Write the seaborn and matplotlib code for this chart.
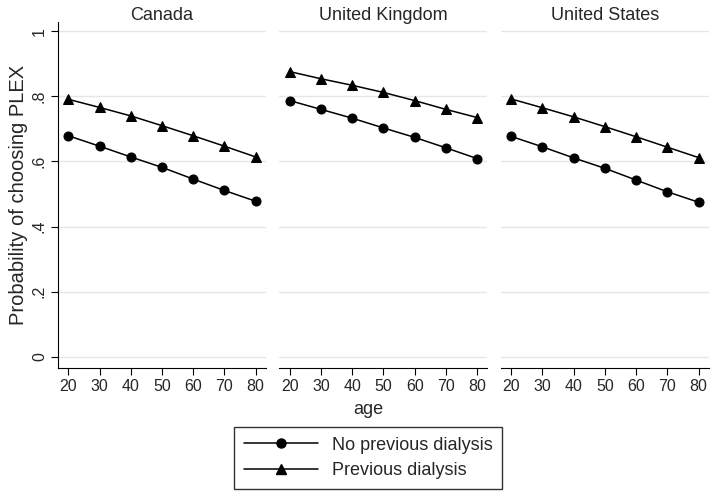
import numpy as np
import pandas as pd
import seaborn as sns
import matplotlib.pyplot as plt
from matplotlib.lines import Line2D

# values
countries = ["Canada", "United Kingdom", "United States"]
ages = [20, 30, 40, 50, 60, 70, 80]
no_prev = {
    "Canada": [0.679, 0.647, 0.614, 0.582, 0.546, 0.511, 0.478],
    "United Kingdom": [0.787, 0.760, 0.733, 0.703, 0.674, 0.642, 0.609],
    "United States": [0.677, 0.645, 0.611, 0.579, 0.543, 0.507, 0.475],
}
prev = {
    "Canada": [0.791, 0.766, 0.740, 0.710, 0.679, 0.647, 0.614],
    "United Kingdom": [0.876, 0.854, 0.834, 0.812, 0.787, 0.760, 0.735],
    "United States": [0.792, 0.765, 0.737, 0.707, 0.676, 0.644, 0.612],
}
groups = ["No previous dialysis", "Previous dialysis"]

rows = []
for c in countries:
    for g, src in zip(groups, [no_prev, prev]):
        for a, p in zip(ages, src[c]):
            rows.append({"country": c, "dialysis": g, "age": a, "prob": p})
df = pd.DataFrame(rows)

sns.set_style("white")
plt.rcParams["font.family"] = ["Liberation Sans", "DejaVu Sans"]

fig, axes = plt.subplots(1, 3, figsize=(7.11, 4.95), dpi=100, sharey=True)
fig.subplots_adjust(left=0.0816, right=0.997, bottom=0.2566, top=0.956, wspace=0.065)

for ax, c in zip(axes, countries):
    sub = df[df["country"] == c]
    sns.lineplot(
        data=sub, x="age", y="prob", style="dialysis",
        markers={"No previous dialysis": "o", "Previous dialysis": "^"},
        dashes=False, color="black", markersize=6.5, linewidth=1.1,
        markeredgecolor="black", ax=ax, legend=False,
    )
    ax.set_xlim(16.7, 83.3)
    ax.set_ylim(-0.034, 1.029)
    ax.set_xticks(ages)
    ax.set_yticks([0, 0.2, 0.4, 0.6, 0.8, 1])
    ax.grid(axis="y", color="#e6e6e6", linewidth=1)
    ax.set_axisbelow(True)
    ax.set_title(c, fontsize=13, pad=1)
    ax.set_xlabel("")
    ax.set_ylabel("")
    for s in ["top", "right"]:
        ax.spines[s].set_visible(False)
    ax.spines["bottom"].set_color("black")
    ax.spines["left"].set_color("black")
    ax.tick_params(axis="x", bottom=True, length=5, color="black", labelsize=11.5, pad=3)
    if ax is axes[0]:
        ax.tick_params(axis="y", left=True, length=5, color="black", labelsize=11.5, pad=3)
        ax.set_yticklabels(["0", ".2", ".4", ".6", ".8", "1"], rotation=90, va="center")
        ax.set_ylabel("Probability of choosing PLEX", fontsize=14.5, labelpad=3)
    else:
        ax.spines["left"].set_visible(False)
        ax.tick_params(axis="y", left=False)

fig.text(0.518, 0.172, "age", ha="center", va="center", fontsize=13)

handles = [
    Line2D([], [], color="black", marker="o", markersize=6.5, linewidth=1.1),
    Line2D([], [], color="black", marker="^", markersize=6.5, linewidth=1.1),
]
leg = fig.legend(handles, groups, loc="center", bbox_to_anchor=(0.518, 0.075),
                 fontsize=13, frameon=True, fancybox=False, handlelength=4.1,
                 borderpad=0.55, labelspacing=0.45, handletextpad=0.75,
                 borderaxespad=0)
leg.get_frame().set_edgecolor("black")
leg.get_frame().set_linewidth(1)

fig.savefig("out.png", dpi=100)
